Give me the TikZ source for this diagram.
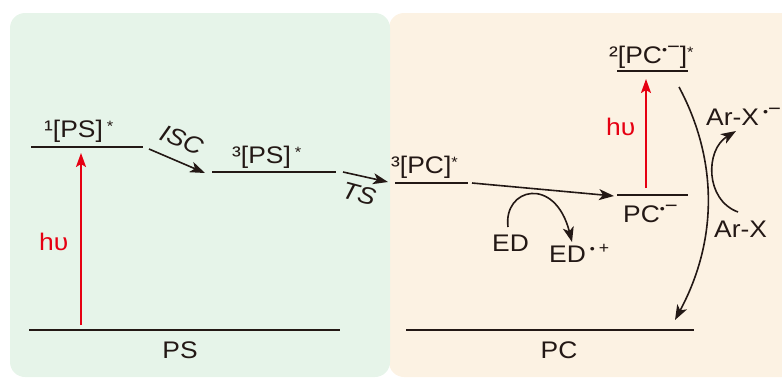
\documentclass[tikz,border=0pt]{standalone}
\usepackage{fontspec}
\setmainfont{Liberation Sans}[FakeStretch=1.1]
\usetikzlibrary{arrows.meta}
\definecolor{ink}{HTML}{231815}
\definecolor{hvred}{HTML}{E60012}
\definecolor{pgreen}{HTML}{E6F4E9}
\definecolor{porange}{HTML}{FCF2E3}
\newcommand\rdot{\raisebox{9pt}{\fontsize{13}{13}\selectfont •}}
\newcommand\rminus{\raisebox{10pt}{\fontsize{20}{20}\selectfont −}}
\newcommand\rplus{\raisebox{9pt}{\fontsize{16}{16}\selectfont +}}
\newcommand\rstar{\raisebox{6pt}{\fontsize{15}{15}\selectfont *}}
\begin{document}
\begin{tikzpicture}[x=1pt,y=-1pt,
  every node/.style={inner sep=0pt, text=ink, font=\fontsize{24}{28}\selectfont},
  lbl/.style={anchor=base west},
  level/.style={draw=ink, line width=2pt},
  arr/.style={draw=ink, line width=1.6pt, -{Stealth[length=15pt,width=11pt,inset=4pt]}},
  redarr/.style={draw=hvred, line width=2pt, -{Stealth[length=14pt,width=10pt,inset=3pt]}},
  hv/.style={anchor=base west, text=hvred}]
\useasboundingbox (0,0) rectangle (782,378);
\begin{scope}
\clip (0,0) rectangle (782,378);
\fill[porange, rounded corners=15pt] (389,13) rectangle (810,377);
\fill[pgreen, rounded corners=15pt] (10,13) rectangle (390,377);
\end{scope}
% level end points
\coordinate (s1a) at (31,147); \coordinate (s1b) at (143,147);
\coordinate (t1a) at (212,172); \coordinate (t1b) at (336,172);
\coordinate (c3a) at (395,183); \coordinate (c3b) at (468,183);
\coordinate (pra) at (617,195); \coordinate (prb) at (688,195);
\coordinate (pea) at (617,71); \coordinate (peb) at (688,71);
\coordinate (psa) at (29,330); \coordinate (psb) at (340,330);
\coordinate (pca) at (406,330); \coordinate (pcb) at (694,330);
\draw[level] (s1a) -- (s1b);
\draw[level] (t1a) -- (t1b);
\draw[level] (c3a) -- (c3b);
\draw[level] (pra) -- (prb);
\draw[level] (pea) -- (peb);
\draw[level] (psa) -- (psb);
\draw[level] (pca) -- (pcb);
% labels
\node[lbl] (l1ps) at (44,137) {¹[PS]\,\rstar};
\node[lbl] (l3ps) at (232,163) {³[PS]\,\rstar};
\node[lbl] (l3pc) at (391,173) {³[PC]\rstar};
\node[lbl] (l2pc) at (609,63) {²[PC\rdot\rminus]\rstar};
\node[lbl] (lpcr) at (623,222) {PC\rdot\rminus};
\node[anchor=base] (lps) at (180,358) {PS};
\node[anchor=base] (lpc) at (559,358) {PC};
\node[hv] (hv1) at (39,250) {hυ};
\node[hv] (hv2) at (606,135) {hυ};
\node[lbl] (led) at (492,251) {ED};
\node[lbl] (ledp) at (549,262) {ED\,\rdot\,\rplus};
\node[lbl] (larxm) at (706,125) {Ar-X\,\rdot\rminus};
\node[lbl] (larx) at (714,237) {Ar-X};
\node[rotate=-23,font=\fontsize{24}{28}\selectfont\itshape] (lisc) at (182,140) {ISC};
\node[rotate=-15,font=\fontsize{24}{28}\selectfont\itshape] (lts) at (359,194) {TS};
% arrows
\coordinate (h1s) at (81,325); \coordinate (h1e) at (81,153);
\coordinate (h2s) at (646,188); \coordinate (h2e) at (646,79);
\coordinate (isa) at (149,149); \coordinate (isb) at (205,173);
\coordinate (tsa) at (343,172); \coordinate (tsb) at (388,182);
\coordinate (eta) at (472,183); \coordinate (etb) at (614,196);
\coordinate (bca) at (679,87); \coordinate (bcb) at (675,320);
\coordinate (eda) at (508,227); \coordinate (edb) at (572,242);
\coordinate (axa) at (738,212); \coordinate (axb) at (736,131);
\draw[redarr] (h1s) -- (h1e);
\draw[redarr] (h2s) -- (h2e);
\draw[arr] (isa) -- (isb);
\draw[arr] (tsa) -- (tsb);
\draw[arr] (eta) -- (etb);
\draw[arr] (bca) .. controls (718,160) and (718,240) .. (bcb);
\draw[arr] (eda) .. controls (503,188) and (555,175) .. (edb);
\draw[arr] (axa) .. controls (705,200) and (705,150) .. (axb);
\end{tikzpicture}
\end{document}
